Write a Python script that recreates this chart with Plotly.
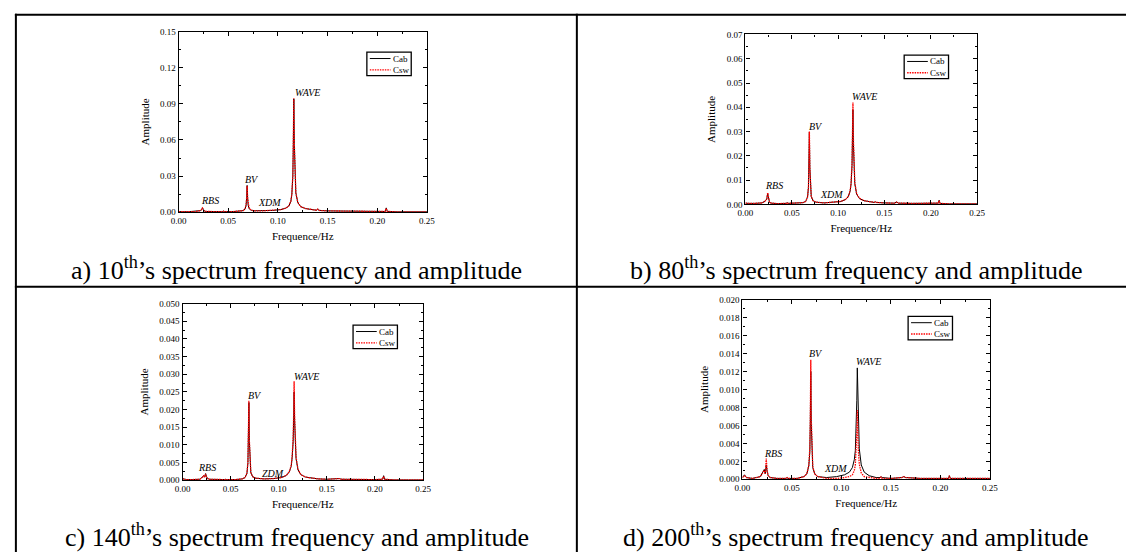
import plotly.graph_objects as go

# ---------------- data ----------------
freq = [0.000, 0.002, 0.004, 0.010, 0.018, 0.021, 0.022, 0.023, 0.024, 0.025,
        0.026, 0.028, 0.035, 0.044, 0.045, 0.046, 0.055, 0.062, 0.065, 0.067,
        0.068, 0.0685, 0.069, 0.0695, 0.070, 0.071, 0.073, 0.076, 0.085, 0.095,
        0.103, 0.108, 0.111, 0.113, 0.114, 0.115, 0.1155, 0.116, 0.1165, 0.117,
        0.118, 0.120, 0.123, 0.128, 0.135, 0.139, 0.140, 0.141, 0.150, 0.161,
        0.163, 0.165, 0.180, 0.200, 0.208, 0.209, 0.210, 0.220, 0.235, 0.250]

a_cab = [0.0006, 0.0004, 0.0004, 0.0004, 0.0006, 0.0010, 0.0013, 0.0019, 0.0036, 0.0021,
         0.0010, 0.0006, 0.0004, 0.0005, 0.0009, 0.0005, 0.0005, 0.0008, 0.0013, 0.0028,
         0.0060, 0.0120, 0.0222, 0.0120, 0.0060, 0.0030, 0.0017, 0.0012, 0.0011, 0.0015,
         0.0022, 0.0034, 0.0052, 0.0090, 0.0150, 0.0300, 0.0560, 0.0940, 0.0560, 0.0300,
         0.0160, 0.0080, 0.0046, 0.0030, 0.0020, 0.0016, 0.0028, 0.0015, 0.0011, 0.0009,
         0.0012, 0.0008, 0.0005, 0.0004, 0.0006, 0.0036, 0.0007, 0.0003, 0.0003, 0.0003]
a_csw = [0.0005, 0.0004, 0.0004, 0.0004, 0.0006, 0.0010, 0.0013, 0.0020, 0.0034, 0.0021,
         0.0010, 0.0006, 0.0004, 0.0005, 0.0008, 0.0005, 0.0005, 0.0008, 0.0013, 0.0029,
         0.0062, 0.0118, 0.0220, 0.0118, 0.0062, 0.0031, 0.0017, 0.0012, 0.0011, 0.0015,
         0.0022, 0.0034, 0.0053, 0.0092, 0.0152, 0.0305, 0.0565, 0.0945, 0.0565, 0.0305,
         0.0162, 0.0081, 0.0046, 0.0030, 0.0020, 0.0016, 0.0025, 0.0015, 0.0011, 0.0009,
         0.0011, 0.0008, 0.0005, 0.0004, 0.0006, 0.0032, 0.0007, 0.0003, 0.0003, 0.0003]

b_cab = [0.0005, 0.0004, 0.0004, 0.0004, 0.0006, 0.0013, 0.0018, 0.0022, 0.0044, 0.0020,
         0.0008, 0.0005, 0.0003, 0.0004, 0.0008, 0.0004, 0.0004, 0.0007, 0.0012, 0.0030,
         0.0070, 0.0150, 0.0298, 0.0150, 0.0070, 0.0032, 0.0015, 0.0009, 0.0006, 0.0008,
         0.0012, 0.0020, 0.0032, 0.0055, 0.0085, 0.0160, 0.0250, 0.0390, 0.0250, 0.0160,
         0.0085, 0.0042, 0.0024, 0.0015, 0.0010, 0.0008, 0.0011, 0.0008, 0.0006, 0.0005,
         0.0010, 0.0005, 0.0004, 0.0003, 0.0005, 0.0017, 0.0004, 0.0002, 0.0002, 0.0002]
b_csw = [0.0005, 0.0004, 0.0004, 0.0004, 0.0006, 0.0012, 0.0017, 0.0022, 0.0048, 0.0021,
         0.0008, 0.0005, 0.0003, 0.0004, 0.0007, 0.0004, 0.0004, 0.0007, 0.0012, 0.0030,
         0.0071, 0.0152, 0.0300, 0.0152, 0.0071, 0.0032, 0.0015, 0.0009, 0.0006, 0.0008,
         0.0012, 0.0020, 0.0033, 0.0057, 0.0090, 0.0170, 0.0270, 0.0420, 0.0270, 0.0170,
         0.0090, 0.0044, 0.0025, 0.0015, 0.0010, 0.0008, 0.0010, 0.0008, 0.0006, 0.0005,
         0.0009, 0.0005, 0.0004, 0.0003, 0.0005, 0.0015, 0.0004, 0.0002, 0.0002, 0.0002]

c_cab = [0.0005, 0.0003, 0.0002, 0.0002, 0.0003, 0.0010, 0.0013, 0.0009, 0.0019, 0.0010,
         0.0005, 0.0003, 0.0002, 0.0002, 0.0003, 0.0002, 0.0002, 0.0004, 0.0008, 0.0020,
         0.0050, 0.0110, 0.0220, 0.0110, 0.0050, 0.0022, 0.0010, 0.0006, 0.0004, 0.0005,
         0.0008, 0.0014, 0.0024, 0.0040, 0.0065, 0.0110, 0.0170, 0.0250, 0.0170, 0.0110,
         0.0062, 0.0030, 0.0016, 0.0009, 0.0006, 0.0005, 0.0006, 0.0004, 0.0003, 0.0006,
         0.0005, 0.0003, 0.0002, 0.0002, 0.0003, 0.0013, 0.0003, 0.0001, 0.0001, 0.0001]
c_csw = [0.0004, 0.0003, 0.0002, 0.0002, 0.0003, 0.0009, 0.0014, 0.0009, 0.0018, 0.0010,
         0.0005, 0.0003, 0.0002, 0.0002, 0.0003, 0.0002, 0.0002, 0.0004, 0.0008, 0.0021,
         0.0052, 0.0112, 0.0225, 0.0112, 0.0052, 0.0022, 0.0010, 0.0006, 0.0004, 0.0005,
         0.0008, 0.0014, 0.0025, 0.0042, 0.0070, 0.0120, 0.0185, 0.0280, 0.0185, 0.0120,
         0.0066, 0.0031, 0.0016, 0.0009, 0.0006, 0.0005, 0.0005, 0.0004, 0.0003, 0.0005,
         0.0005, 0.0003, 0.0002, 0.0002, 0.0003, 0.0011, 0.0003, 0.0001, 0.0001, 0.0001]

d_cab = [0.0002, 0.0005, 0.0002, 0.0001, 0.0003, 0.0009, 0.0011, 0.0006, 0.0016, 0.0008,
         0.0004, 0.0002, 0.0001, 0.0001, 0.0002, 0.0001, 0.0001, 0.0003, 0.0006, 0.0015,
         0.0030, 0.0062, 0.0120, 0.0062, 0.0030, 0.0013, 0.0006, 0.0003, 0.0002, 0.0003,
         0.0005, 0.0008, 0.0013, 0.0022, 0.0032, 0.0058, 0.0088, 0.0124, 0.0088, 0.0058,
         0.0034, 0.0016, 0.0008, 0.0004, 0.0002, 0.0002, 0.0003, 0.0002, 0.0001, 0.0002,
         0.0003, 0.0002, 0.0001, 0.0001, 0.0001, 0.0004, 0.0001, 0.0001, 0.0001, 0.0001]
d_csw = [0.0002, 0.0004, 0.0002, 0.0001, 0.0003, 0.0008, 0.0010, 0.0006, 0.0023, 0.0009,
         0.0004, 0.0002, 0.0001, 0.0001, 0.0002, 0.0001, 0.0001, 0.0003, 0.0006, 0.0016,
         0.0034, 0.0068, 0.0133, 0.0068, 0.0034, 0.0014, 0.0006, 0.0003, 0.0001, 0.0001,
         0.0002, 0.0003, 0.0005, 0.0010, 0.0016, 0.0033, 0.0052, 0.0077, 0.0052, 0.0033,
         0.0017, 0.0007, 0.0003, 0.0002, 0.0001, 0.0001, 0.0003, 0.0001, 0.0001, 0.0002,
         0.0003, 0.0002, 0.0001, 0.0001, 0.0001, 0.0004, 0.0001, 0.0001, 0.0001, 0.0001]

x_ticks = [0.00, 0.05, 0.10, 0.15, 0.20, 0.25]
x_ticklabels = ["0.00", "0.05", "0.10", "0.15", "0.20", "0.25"]

a_yticks = [0.00, 0.03, 0.06, 0.09, 0.12, 0.15]
a_yticklabels = ["0.00", "0.03", "0.06", "0.09", "0.12", "0.15"]
b_yticks = [0.00, 0.01, 0.02, 0.03, 0.04, 0.05, 0.06, 0.07]
b_yticklabels = ["0.00", "0.01", "0.02", "0.03", "0.04", "0.05", "0.06", "0.07"]
c_yticks = [0.000, 0.005, 0.010, 0.015, 0.020, 0.025, 0.030, 0.035, 0.040, 0.045, 0.050]
c_yticklabels = ["0.000", "0.005", "0.010", "0.015", "0.020", "0.025",
                 "0.030", "0.035", "0.040", "0.045", "0.050"]
d_yticks = [0.000, 0.002, 0.004, 0.006, 0.008, 0.010, 0.012, 0.014, 0.016, 0.018, 0.020]
d_yticklabels = ["0.000", "0.002", "0.004", "0.006", "0.008", "0.010",
                 "0.012", "0.014", "0.016", "0.018", "0.020"]

series_names = ["Cab", "Csw"]

a_peaks = ["RBS", "BV", "XDM", "WAVE"]
b_peaks = ["RBS", "BV", "XDM", "WAVE"]
c_peaks = ["RBS", "BV", "ZDM", "WAVE"]
d_peaks = ["RBS", "BV", "XDM", "WAVE"]

captions = [
    "a) 10<sup>th</sup>\u2019s spectrum frequency and amplitude",
    "b) 80<sup>th</sup>\u2019s spectrum frequency and amplitude",
    "c) 140<sup>th</sup>\u2019s spectrum frequency and amplitude",
    "d) 200<sup>th</sup>\u2019s spectrum frequency and amplitude",
]

# ---------------- layout (pixels) ----------------
W, H = 1134, 557
SERIF = "Liberation Serif"

# label anchor positions in data units (placement only)
a_peak_pos = [(0.032, 0.0098), (0.074, 0.0269), (0.092, 0.0082), (0.1296, 0.0992)]
b_peak_pos = [(0.031, 0.0076), (0.076, 0.032), (0.0925, 0.0042), (0.129, 0.0446)]
c_peak_pos = [(0.0256, 0.0036), (0.075, 0.0241), (0.094, 0.0020), (0.129, 0.0294)]
d_peak_pos = [(0.031, 0.00287), (0.0745, 0.0140), (0.094, 0.00124), (0.127, 0.0131)]

panels = [
    dict(box=(173, 425, 27, 211), ymax=0.15, yt=a_yticks, ytl=a_yticklabels,
         cab=a_cab, csw=a_csw, leg=(364, 48), peaks=a_peaks, ppos=a_peak_pos),
    dict(box=(748, 983, 30, 203), ymax=0.07, yt=b_yticks, ytl=b_yticklabels,
         cab=b_cab, csw=b_csw, leg=(909, 51), peaks=b_peaks, ppos=b_peak_pos),
    dict(box=(177, 421, 304, 484), ymax=0.05, yt=c_yticks, ytl=c_yticklabels,
         cab=c_cab, csw=c_csw, leg=(350, 326), peaks=c_peaks, ppos=c_peak_pos),
    dict(box=(745, 996, 300, 483), ymax=0.02, yt=d_yticks, ytl=d_yticklabels,
         cab=d_cab, csw=d_csw, leg=(913, 317), peaks=d_peaks, ppos=d_peak_pos),
]
caption_pos = [(293, 268), (860, 268), (293, 540), (860, 540)]
LEG_W, LEG_H = 45, 24

CAB_LINE = dict(color="black", width=1)
CSW_LINE = dict(color="#ff0000", width=1.3, dash="1.5px,1px")


def mids(v):
    return [(v[i] + v[i + 1]) / 2 for i in range(len(v) - 1)]


def px(x):
    return x / W


def py(y):
    return 1 - y / H


fig = go.Figure()
layout = dict(width=W, height=H, margin=dict(l=0, r=0, t=0, b=0),
              paper_bgcolor="white", plot_bgcolor="white",
              font=dict(family=SERIF, color="black"), showlegend=False)
annotations = []
shapes = []

tickfont = dict(family=SERIF, size=9, color="black")
titlefont = dict(family=SERIF, size=11, color="black")

for i, p in enumerate(panels):
    n = "" if i == 0 else str(i + 1)
    x0, x1, y0, y1 = p["box"]
    fig.add_trace(go.Scatter(x=freq, y=p["cab"], mode="lines", name=series_names[0],
                             line=CAB_LINE, xaxis="x" + n, yaxis="y" + n))
    fig.add_trace(go.Scatter(x=freq, y=p["csw"], mode="lines", name=series_names[1],
                             line=CSW_LINE, xaxis="x" + n, yaxis="y" + n))
    common = dict(ticks="inside", ticklen=4, tickwidth=1, tickcolor="black",
                  showline=True, linecolor="black", linewidth=1.2, mirror="allticks",
                  showgrid=False, zeroline=False, tickfont=tickfont, fixedrange=True)
    layout["xaxis" + n] = dict(
        domain=[px(x0), px(x1)], range=[0, 0.25], anchor="y" + n,
        tickmode="array", tickvals=x_ticks, ticktext=x_ticklabels,
        minor=dict(tickmode="array", tickvals=mids(x_ticks), ticks="inside",
                   ticklen=2, tickcolor="black"),
        title=dict(text="Frequence/Hz", font=titlefont, standoff=7), **common)
    layout["yaxis" + n] = dict(
        domain=[py(y1), py(y0)], range=[0, p["ymax"]], anchor="x" + n,
        tickmode="array", tickvals=p["yt"], ticktext=p["ytl"],
        minor=dict(tickmode="array", tickvals=mids(p["yt"]), ticks="inside",
                   ticklen=2, tickcolor="black"),
        title=dict(text="Amplitude", font=titlefont, standoff=8), **common)

    # legend box drawn in the Origin style
    lx, ly = p["leg"]
    shapes.append(dict(type="rect", xref="paper", yref="paper",
                       x0=px(lx), x1=px(lx + LEG_W), y0=py(ly + LEG_H), y1=py(ly),
                       line=dict(color="black", width=1.3), fillcolor="white", layer="above"))
    for k, (nm, st) in enumerate(zip(series_names, [CAB_LINE, CSW_LINE])):
        yy = ly + 6.5 + k * 11.5
        shapes.append(dict(type="line", xref="paper", yref="paper",
                           x0=px(lx + 3), x1=px(lx + 24), y0=py(yy), y1=py(yy),
                           line=st, layer="above"))
        annotations.append(dict(x=px(lx + 24), y=py(yy), xref="paper", yref="paper",
                                text=nm, showarrow=False, xanchor="left", yanchor="middle",
                                font=dict(family=SERIF, size=9, color="black")))

    for name, (ax_, ay_) in zip(p["peaks"], p["ppos"]):
        annotations.append(dict(x=ax_, y=ay_, xref="x" + n, yref="y" + n,
                                text="<i>" + name + "</i>", showarrow=False,
                                font=dict(family=SERIF, size=10, color="black")))
    cx, cy = caption_pos[i]
    annotations.append(dict(x=px(cx), y=py(cy), xref="paper", yref="paper",
                            text=captions[i], showarrow=False,
                            xanchor="center", yanchor="middle",
                            font=dict(family=SERIF, size=26, color="black")))


# table ruling
def hline(y, xa, xb):
    shapes.append(dict(type="line", xref="paper", yref="paper",
                       x0=px(xa), x1=px(xb), y0=py(y), y1=py(y),
                       line=dict(color="black", width=2)))


def vline(x, ya, yb):
    shapes.append(dict(type="line", xref="paper", yref="paper",
                       x0=px(x), x1=px(x), y0=py(ya), y1=py(yb),
                       line=dict(color="black", width=2)))


hline(10, 7, W)
hline(287, 7, W)
vline(8, 9, H)
vline(577, 9, H)

layout["annotations"] = annotations
layout["shapes"] = shapes
fig.update_layout(**layout)
fig.write_html("out.html")
